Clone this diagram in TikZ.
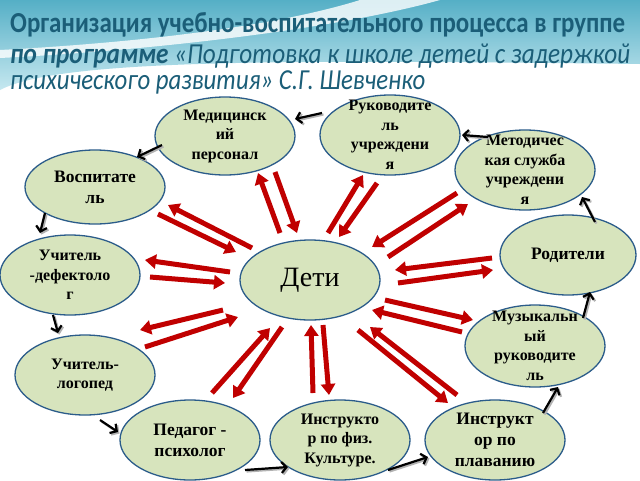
\documentclass[tikz,border=0pt]{standalone}
\usepackage{fontspec}
\usepackage{graphicx}
\setmainfont{Liberation Serif}
\newfontfamily\titlefont{Carlito}
\usetikzlibrary{arrows.meta,shapes.geometric,calc}
\definecolor{nodefill}{HTML}{D7E4BD}
\definecolor{nodeedge}{HTML}{2B5C8A}
\definecolor{arrowred}{HTML}{C00000}
\definecolor{titleblue}{HTML}{1B5E78}
\definecolor{headtop}{HTML}{55AFC6}
\definecolor{headbot}{HTML}{C6E8F0}
\newcommand\mycyclearrows{%
  \draw[blk] ($(ruk)+(-68,-22)$) -- ($(med)+(70,-17)$);
  \draw[blk] ($(med)+(-63,9)$) -- ($(vosp)+(42,-30)$);
  \draw[blk] ($(vosp)+(-50,26)$) -- ($(def)+(-30,-42)$);
  \draw[blk] ($(def)+(-17,40)$) -- ($(log)+(-27,-42)$);
  \draw[blk] ($(log)+(15,45)$) -- ($(ped)+(-72,-8)$);
  \draw[blk] ($(ped)+(55,30)$) -- ($(fiz)+(-52,27)$);
  \draw[blk] ($(fiz)+(48,30)$) -- ($(plav)+(-67,17)$);
  \draw[blk] ($(plav)+(48,-27)$) -- ($(muz)+(23,41)$);
  \draw[blk] ($(muz)+(48,-28)$) -- ($(rod)+(22,37)$);
  \draw[blk] ($(rod)+(27,-33)$) -- ($(met)+(57,27)$);
  \draw[blk] ($(met)+(-37,-33)$) -- ($(ruk)+(72,0)$);
}
\begin{document}
\begin{tikzpicture}[x=1pt,y=-1pt,
  bubble/.style={ellipse,draw=nodeedge,line width=1.3pt,fill=nodefill,minimum width=140pt,minimum height=80pt,inner sep=0pt},
  small/.style={align=center,inner sep=0pt,font=\bfseries\fontsize{16}{19.5}\selectfont},
  big/.style={align=center,inner sep=0pt,font=\bfseries\fontsize{17.5}{21}\selectfont},
  redarr/.style={draw=arrowred,line width=5pt,-{Triangle[length=11pt,width=14pt]}},
  title/.style={anchor=base west,inner sep=0pt,text=titleblue}
]
\useasboundingbox (0,0) rectangle (640,480);
\fill[white] (0,0) rectangle (640,480);
\shade[top color=headtop,bottom color=headbot] (0,0) -- (640,0) -- (640,64) .. controls (300,60) and (60,58) .. (0,90) -- cycle;
\fill[white,opacity=0.8] (0,50) .. controls (150,42) and (280,25) .. (360,0) -- (440,0) .. controls (340,28) and (160,50) .. (0,58) -- cycle;

\node[title] (t1) at (10,32) {\resizebox{615pt}{\height}{\titlefont\bfseries\fontsize{29}{32}\selectfont Организация учебно-воспитательного процесса в группе}};
\node[title] (t2) at (10,63) {\resizebox{620pt}{\height}{\titlefont\itshape\fontsize{29}{32}\selectfont{\bfseries по программе} «Подготовка к школе детей с задержкой}};
\node[title] (t3) at (10,89) {\resizebox{415pt}{\height}{\titlefont\itshape\fontsize{29}{32}\selectfont психического развития» С.Г. Шевченко}};

\node[bubble,label={[font=\fontsize{28}{30}\selectfont,inner sep=0pt]center:Дети}] (deti) at (310,280) {};
\node[bubble,minimum height=74pt,label={[big]center:{Воспитате\\ль}}] (vosp) at (95,187) {};
\node[bubble,minimum height=78pt,label={[small]center:{Медицинск\\ий\\персонал}}] (med) at (225,136) {};
\node[bubble,label={[small]center:{Руководите\\ль\\учреждени\\я}}] (ruk) at (390,135) {};
\node[bubble,label={[small]center:{Методичес\\кая служба\\учреждени\\я}}] (met) at (525,170) {};
\node[bubble,minimum width=136pt,label={[big]center:{Родители}}] (rod) at (568,255) {};
\node[bubble,minimum height=82pt,label={[small]center:{Музыкальн\\ый\\руководите\\ль}}] (muz) at (535,346) {};
\node[bubble,label={[big]center:{Инструкт\\ор по\\плаванию}}] (plav) at (495,440) {};
\node[bubble,label={[small]center:{Инструкто\\р по физ.\\Культуре.}}] (fiz) at (340,440) {};
\node[bubble,label={[big]center:{Педагог -\\психолог}}] (ped) at (190,440) {};
\node[bubble,label={[small]center:{Учитель-\\логопед}}] (log) at (85,375) {};
\node[bubble,label={[small]center:{Учитель\\-дефектоло\\г}}] (def) at (70,275) {};

% red double arrows
\draw[redarr] ($(deti)+(-58,-32)$) -- ($(vosp)+(73,18)$);
\draw[redarr] ($(vosp)+(63,27)$) -- ($(deti)+(-74,-28)$);
\draw[redarr] ($(deti)+(-30,-47)$) -- ($(med)+(33,37)$);
\draw[redarr] ($(med)+(50,36)$) -- ($(deti)+(-13,-47)$);
\draw[redarr] ($(deti)+(18,-47)$) -- ($(ruk)+(-27,40)$);
\draw[redarr] ($(ruk)+(-13,48)$) -- ($(deti)+(29,-43)$);
\draw[redarr] ($(deti)+(78,-23)$) -- ($(met)+(-57,34)$);
\draw[redarr] ($(met)+(-68,23)$) -- ($(deti)+(62,-33)$);
\draw[redarr] ($(deti)+(88,3)$) -- ($(rod)+(-75,15)$);
\draw[redarr] ($(rod)+(-76,3)$) -- ($(deti)+(85,-10)$);
\draw[redarr] ($(deti)+(75,20)$) -- ($(muz)+(-62,-26)$);
\draw[redarr] ($(muz)+(-73,-14)$) -- ($(deti)+(62,30)$);
\draw[redarr] ($(deti)+(48,50)$) -- ($(plav)+(-47,-37)$);
\draw[redarr] ($(plav)+(-38,-45)$) -- ($(deti)+(60,47)$);
\draw[redarr] ($(deti)+(13,45)$) -- ($(fiz)+(-11,-45)$);
\draw[redarr] ($(fiz)+(-27,-47)$) -- ($(deti)+(1,45)$);
\draw[redarr] ($(deti)+(-28,47)$) -- ($(ped)+(43,-42)$);
\draw[redarr] ($(ped)+(22,-47)$) -- ($(deti)+(-40,48)$);
\draw[redarr] ($(deti)+(-87,30)$) -- ($(log)+(55,-45)$);
\draw[redarr] ($(log)+(60,-28)$) -- ($(deti)+(-72,37)$);
\draw[redarr] ($(deti)+(-80,-8)$) -- ($(def)+(75,-15)$);
\draw[redarr] ($(def)+(80,2)$) -- ($(deti)+(-85,3)$);

% black cycle arrows with shadow
\begin{scope}[transform canvas={shift={(1.5pt,-1.5pt)}},
  blk/.style={draw=gray!60,line width=2.2pt,-{Straight Barb[length=5pt,width=11pt]}}]
  \mycyclearrows
\end{scope}
\begin{scope}[blk/.style={draw=black,line width=2.2pt,-{Straight Barb[length=5pt,width=11pt]}}]
  \mycyclearrows
\end{scope}
\end{tikzpicture}
\end{document}
